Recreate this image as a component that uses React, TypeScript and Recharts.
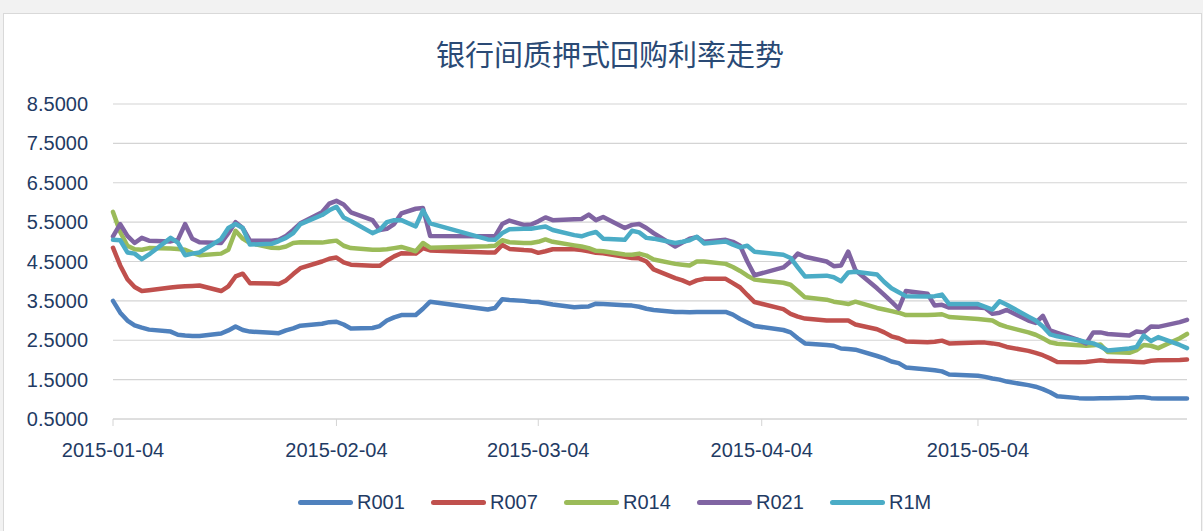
import React from "react";
import { LineChart, Line, XAxis, YAxis, CartesianGrid } from "recharts";

const dates = [
  "2015-01-04", "2015-01-05", "2015-01-06", "2015-01-07", "2015-01-08", "2015-01-09",
  "2015-01-12", "2015-01-13", "2015-01-14", "2015-01-15", "2015-01-16",
  "2015-01-19", "2015-01-20", "2015-01-21", "2015-01-22", "2015-01-23",
  "2015-01-26", "2015-01-27", "2015-01-28", "2015-01-29", "2015-01-30",
  "2015-02-02", "2015-02-03", "2015-02-04", "2015-02-05", "2015-02-06",
  "2015-02-09", "2015-02-10", "2015-02-11", "2015-02-12", "2015-02-13",
  "2015-02-15", "2015-02-16", "2015-02-17",
  "2015-02-25", "2015-02-26", "2015-02-27", "2015-02-28",
  "2015-03-02", "2015-03-03", "2015-03-04", "2015-03-05", "2015-03-06",
  "2015-03-09", "2015-03-10", "2015-03-11", "2015-03-12", "2015-03-13",
  "2015-03-16", "2015-03-17", "2015-03-18", "2015-03-19", "2015-03-20",
  "2015-03-23", "2015-03-24", "2015-03-25", "2015-03-26", "2015-03-27",
  "2015-03-30", "2015-03-31",
  "2015-04-01", "2015-04-02", "2015-04-03",
  "2015-04-07", "2015-04-08", "2015-04-09", "2015-04-10",
  "2015-04-13", "2015-04-14", "2015-04-15", "2015-04-16", "2015-04-17",
  "2015-04-20", "2015-04-21", "2015-04-22", "2015-04-23", "2015-04-24",
  "2015-04-27", "2015-04-28", "2015-04-29", "2015-04-30",
  "2015-05-04", "2015-05-05", "2015-05-06", "2015-05-07", "2015-05-08",
  "2015-05-11", "2015-05-12", "2015-05-13", "2015-05-14", "2015-05-15",
  "2015-05-18", "2015-05-19", "2015-05-20", "2015-05-21", "2015-05-22",
  "2015-05-25", "2015-05-26", "2015-05-27", "2015-05-28", "2015-05-29",
  "2015-06-01", "2015-06-02",
];

const r001 = [
  3.5, 3.2, 3.0, 2.88, 2.82, 2.77,
  2.72, 2.64, 2.62, 2.61, 2.61,
  2.67, 2.75, 2.85, 2.76, 2.72,
  2.69, 2.68, 2.75, 2.8, 2.87,
  2.92, 2.96, 2.97, 2.9, 2.8,
  2.81, 2.86, 3.0, 3.08, 3.14,
  3.14, 3.3, 3.48,
  3.28, 3.32, 3.54, 3.52,
  3.5, 3.48, 3.47, 3.44, 3.41,
  3.34, 3.35, 3.36, 3.43, 3.42,
  3.39, 3.38, 3.35, 3.3, 3.27,
  3.22, 3.22, 3.21, 3.22, 3.22,
  3.22, 3.15,
  3.04, 2.95, 2.86,
  2.76, 2.7, 2.55, 2.42,
  2.38, 2.36, 2.29, 2.28, 2.26,
  2.1, 2.04, 1.96, 1.92, 1.81,
  1.76, 1.74, 1.71, 1.63,
  1.6, 1.57, 1.53, 1.5, 1.45,
  1.36, 1.32, 1.26, 1.18, 1.08,
  1.03, 1.02, 1.02, 1.03, 1.03,
  1.04, 1.05, 1.05, 1.03, 1.02,
  1.02, 1.02,
];

const r007 = [
  4.85, 4.4, 4.05, 3.85, 3.75, 3.77,
  3.84, 3.86, 3.87, 3.88, 3.89,
  3.75, 3.87, 4.12, 4.19, 3.95,
  3.94, 3.93, 4.02, 4.18, 4.33,
  4.5, 4.57, 4.6, 4.48, 4.42,
  4.39, 4.39, 4.52, 4.63, 4.71,
  4.7, 4.84, 4.78,
  4.73, 4.73, 4.92, 4.82,
  4.79, 4.78, 4.72, 4.76, 4.81,
  4.81, 4.79, 4.76, 4.72, 4.71,
  4.62, 4.59, 4.58, 4.5, 4.3,
  4.08, 4.02, 3.94, 4.02, 4.06,
  4.06, 3.95,
  3.84, 3.65, 3.47,
  3.29, 3.17, 3.1, 3.05,
  3.0, 3.0, 3.0, 3.0, 2.9,
  2.78, 2.7, 2.6, 2.55, 2.47,
  2.45, 2.46, 2.49, 2.42,
  2.44, 2.44, 2.42, 2.39, 2.33,
  2.23, 2.18, 2.12, 2.04, 1.95,
  1.94, 1.95, 1.97, 1.99, 1.97,
  1.96, 1.95, 1.94, 1.98, 1.99,
  2.0, 2.01,
];

const r014 = [
  5.76, 5.25, 4.9, 4.81, 4.8, 4.84,
  4.83, 4.82, 4.8, 4.72, 4.66,
  4.7, 4.8, 5.28, 5.08, 4.97,
  4.85, 4.84, 4.88, 4.97, 4.99,
  4.98, 5.01, 5.03, 4.9, 4.84,
  4.8, 4.8, 4.81, 4.84, 4.87,
  4.76, 4.97, 4.85,
  4.89, 4.9, 5.04, 4.99,
  4.97, 4.97, 5.0, 5.06, 5.0,
  4.91, 4.88, 4.84, 4.77, 4.76,
  4.68, 4.67, 4.7, 4.65, 4.55,
  4.44, 4.42, 4.4, 4.5, 4.5,
  4.44, 4.36,
  4.26, 4.14, 4.04,
  3.96, 3.91, 3.75, 3.59,
  3.53, 3.48, 3.45, 3.42, 3.48,
  3.32, 3.28, 3.24, 3.2, 3.14,
  3.14, 3.15, 3.16, 3.09,
  3.04, 3.02, 3.0, 2.9, 2.84,
  2.7, 2.64, 2.55, 2.45, 2.41,
  2.37, 2.36, 2.37, 2.39, 2.2,
  2.18, 2.25, 2.38, 2.36, 2.3,
  2.55, 2.66,
];

const r021 = [
  5.14, 5.45, 5.15, 4.97, 5.1, 5.03,
  5.01, 5.05, 5.45, 5.08, 4.99,
  4.97, 5.22, 5.5, 5.35, 5.03,
  5.03, 5.05, 5.15, 5.3, 5.47,
  5.75, 5.97, 6.04, 5.95, 5.75,
  5.55, 5.3, 5.33, 5.45, 5.72,
  5.84, 5.86, 5.15,
  5.14, 5.14, 5.45, 5.54,
  5.43, 5.44, 5.52, 5.62, 5.55,
  5.57, 5.58, 5.69, 5.55, 5.63,
  5.35, 5.43, 5.45, 5.35, 5.22,
  4.88, 4.98, 5.08, 5.12, 5.0,
  5.05, 5.0,
  4.9, 4.5, 4.15,
  4.35, 4.5, 4.7, 4.62,
  4.5, 4.38, 4.4, 4.75, 4.28,
  3.82, 3.65, 3.48, 3.3, 3.75,
  3.68, 3.38, 3.4, 3.33,
  3.33, 3.32, 3.17, 3.2, 3.27,
  3.0, 2.94, 3.12, 2.75, 2.69,
  2.5, 2.42, 2.7, 2.7, 2.66,
  2.62, 2.72, 2.7, 2.85, 2.84,
  2.96, 3.02,
];

const r1m = [
  5.05, 5.04, 4.73, 4.7, 4.56, 4.68,
  5.1, 4.98, 4.66, 4.7, 4.73,
  5.07, 5.35, 5.45, 5.35, 4.93,
  4.95, 5.02, 5.1, 5.22, 5.45,
  5.68, 5.8, 5.89, 5.62, 5.53,
  5.22, 5.3, 5.5, 5.55, 5.55,
  5.39, 5.8, 5.47,
  5.06, 5.05, 5.22, 5.32,
  5.33, 5.33, 5.36, 5.39, 5.3,
  5.17, 5.14, 5.2, 5.25, 5.08,
  5.05, 5.28, 5.24, 5.1, 5.08,
  4.97, 5.0, 5.04, 5.13, 4.96,
  5.01, 4.93,
  4.86, 4.9, 4.75,
  4.67, 4.59, 4.35, 4.12,
  4.14, 4.1, 4.0, 4.22, 4.24,
  4.17, 3.98, 3.82, 3.72, 3.62,
  3.61, 3.62, 3.66, 3.42,
  3.42, 3.35, 3.28, 3.49, 3.4,
  3.1, 3.0, 2.85, 2.65, 2.6,
  2.5, 2.45, 2.42, 2.34, 2.24,
  2.29, 2.33, 2.62, 2.48, 2.58,
  2.38, 2.3,
];

const yTicks = [0.5, 1.5, 2.5, 3.5, 4.5, 5.5, 6.5, 7.5, 8.5];
const xTickLabels = ["2015-01-04", "2015-02-04", "2015-03-04", "2015-04-04", "2015-05-04"];

const series = [
  { key: "R001", values: r001, color: "#4F81BD" },
  { key: "R007", values: r007, color: "#C0504D" },
  { key: "R014", values: r014, color: "#9BBB59" },
  { key: "R021", values: r021, color: "#8064A2" },
  { key: "R1M", values: r1m, color: "#4BACC6" },
];

const DAY = 86400000;
const start = Date.parse(dates[0]);
const toDay = (d: string) => Math.round((Date.parse(d) - start) / DAY);
const fromDay = (n: number) => new Date(start + n * DAY).toISOString().slice(0, 10);

const data = dates.map((d, i) => {
  const row: Record<string, number | string> = { date: d, day: toDay(d) };
  series.forEach((s) => (row[s.key] = s.values[i]));
  return row;
});

const labelColor = "#1F3B64";
const font = "'Liberation Sans', Arial, sans-serif";

export default function App() {
  return (
    <div
      style={{
        position: "absolute",
        left: 0,
        top: 0,
        width: 1203,
        height: 531,
        background: "#f2f2f2",
        overflow: "hidden",
      }}
    >
      <div
        style={{
          position: "absolute",
          left: 3,
          top: 13,
          width: 1197,
          height: 530,
          background: "#fff",
          border: "1px solid #d9d9d9",
        }}
      />
      <div
        style={{
          position: "absolute",
          left: 0,
          top: 34,
          width: 1220,
          textAlign: "center",
          fontFamily: "'Noto Sans CJK SC', sans-serif",
          fontSize: 29,
          color: "#2A4A75",
          lineHeight: "38px",
        }}
      >
        银行间质押式回购利率走势
      </div>
      <div style={{ position: "absolute", left: 0, top: 0 }}>
        <LineChart
          width={1203}
          height={531}
          data={data}
          margin={{ top: 104, right: 16, left: 0, bottom: 0 }}
        >
          <CartesianGrid vertical={false} stroke="#d4d4d4" strokeWidth={1.2} />
          <XAxis
            dataKey="day"
            type="number"
            domain={[0, 149]}
            ticks={xTickLabels.map(toDay)}
            tickFormatter={(v: number) => fromDay(v)}
            interval={0}
            height={112}
            stroke="#d4d4d4"
            tickSize={7}
            tickMargin={17}
            tick={{ fill: labelColor, fontSize: 20, fontFamily: font }}
          />
          <YAxis
            type="number"
            domain={[0.5, 8.5]}
            ticks={yTicks}
            interval={0}
            width={113}
            axisLine={false}
            tickLine={false}
            tickMargin={19}
            tickFormatter={(v: number) => v.toFixed(4)}
            tick={{ fill: labelColor, fontSize: 20, fontFamily: font }}
          />
          {series.map((s) => (
            <Line
              key={s.key}
              type="linear"
              dataKey={s.key}
              stroke={s.color}
              strokeWidth={4.5}
              strokeLinecap="round"
              strokeLinejoin="round"
              dot={false}
              isAnimationActive={false}
            />
          ))}
        </LineChart>
      </div>
      <div
        style={{
          position: "absolute",
          left: 298,
          top: 491,
          display: "flex",
          fontFamily: font,
          fontSize: 20,
          color: labelColor,
        }}
      >
        {series.map((s) => (
          <div key={s.key} style={{ width: 133, display: "flex", alignItems: "center" }}>
            <span
              style={{
                display: "inline-block",
                width: 55,
                height: 5,
                borderRadius: 3,
                background: s.color,
                marginRight: 4,
              }}
            />
            <span>{s.key}</span>
          </div>
        ))}
      </div>
    </div>
  );
}
